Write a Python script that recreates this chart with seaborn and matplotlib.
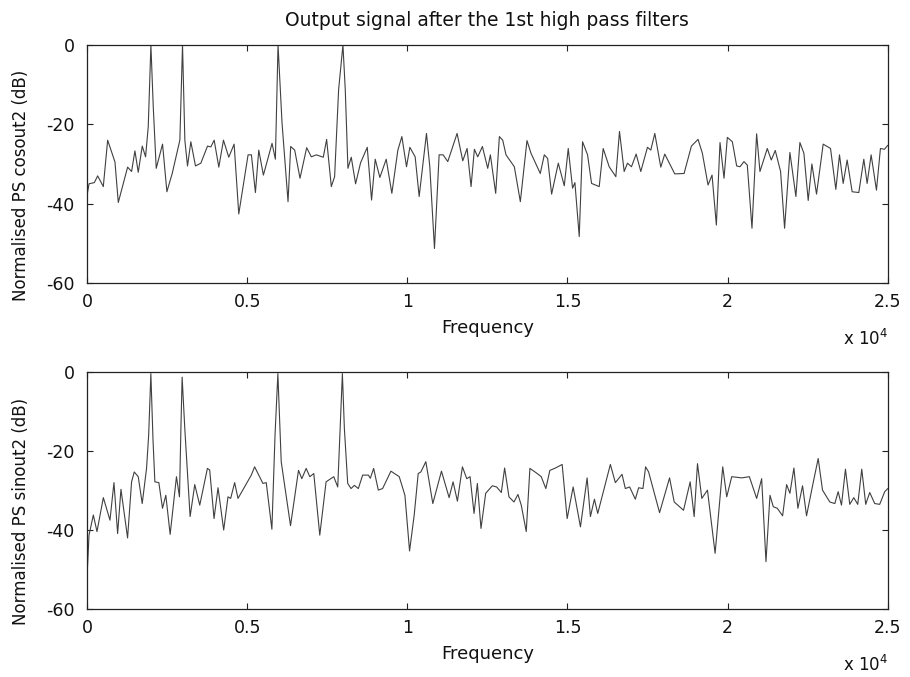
"""Power spectra of the two outputs after the first high pass filter stage."""
import matplotlib
matplotlib.use("Agg")
import matplotlib.pyplot as plt
import seaborn as sns
from matplotlib.ticker import FixedLocator, FuncFormatter

# ---------- data (Hz, dB) ----------

cos_freq = [
    0, 63, 229, 333, 509, 645, 873, 977, 1268, 1392, 1496, 1600, 1725, 1829,
    1912, 1995, 2068, 2161, 2359, 2494, 2660, 2899, 2982, 3055, 3138, 3242,
    3387, 3554, 3762, 3866, 3970, 4115, 4260, 4426, 4593, 4738, 5029, 5133,
    5258, 5362, 5507, 5777, 5881, 5964, 6089, 6276, 6359, 6484, 6650, 6858,
    7003, 7159, 7377, 7481, 7627, 7730, 7855, 7990, 8063, 8146, 8250, 8385,
    8541, 8749, 8884, 8998, 9143, 9341, 9517, 9705, 9830, 9975, 10079, 10245,
    10370, 10598, 10702, 10848, 10993, 11118, 11263, 11554, 11731, 11866,
    11990, 12094, 12198, 12344, 12510, 12593, 12759, 12874, 12978, 13081,
    13341, 13528, 13736, 13861, 14151, 14276, 14380, 14505, 14713, 14900,
    15024, 15159, 15232, 15367, 15471, 15627, 15752, 15991, 16115, 16302,
    16510, 16624, 16770, 16874, 16998, 17144, 17289, 17497, 17601, 17726,
    17913, 18037, 18349, 18640, 18869, 19076, 19211, 19388, 19513, 19648,
    19762, 19887, 19991, 20147, 20282, 20386, 20510, 20614, 20760, 20905,
    21009, 21238, 21362, 21487, 21653, 21778, 21944, 22131, 22256, 22381,
    22515, 22630, 22775, 22983, 23212, 23378, 23492, 23607, 23731, 23887,
    24095, 24251, 24355, 24480, 24646, 24770, 24895, 25000,
]
cos_db = [
    -38.0, -35.0, -34.7, -33.0, -35.7, -24.0, -29.5, -39.7, -30.8, -31.9,
    -26.7, -32.1, -25.5, -28.2, -20.6, 0.0, -15.5, -31.1, -25.0, -37.0,
    -32.4, -24.0, 0.0, -24.0, -30.5, -24.4, -30.5, -29.8, -25.5, -25.7,
    -24.0, -30.8, -24.0, -28.3, -25.0, -42.6, -27.7, -27.7, -37.2, -26.5,
    -32.8, -24.8, -28.8, 0.0, -19.7, -39.5, -25.6, -26.5, -33.6, -25.9,
    -28.2, -27.7, -28.3, -23.8, -35.7, -33.2, -11.3, 0.0, -11.3, -31.1,
    -28.3, -35.0, -29.7, -25.8, -39.1, -28.8, -33.4, -28.8, -37.4, -26.5,
    -23.1, -30.7, -25.8, -28.2, -38.2, -22.3, -30.7, -51.3, -27.7, -27.7,
    -29.4, -22.3, -29.2, -26.1, -35.7, -26.3, -28.2, -25.6, -31.1, -27.7,
    -37.4, -23.1, -24.0, -27.7, -30.7, -39.5, -24.1, -27.3, -32.4, -27.7,
    -28.6, -37.6, -29.8, -35.5, -26.1, -36.1, -34.7, -48.3, -24.4, -27.7,
    -34.9, -35.7, -26.1, -30.7, -33.2, -21.8, -31.9, -29.8, -30.7, -27.5,
    -31.9, -25.8, -26.5, -22.3, -30.8, -27.5, -32.5, -32.4, -25.5, -23.8,
    -27.3, -35.3, -32.8, -45.4, -24.6, -33.6, -23.3, -24.4, -30.5, -30.7,
    -29.4, -30.3, -46.2, -22.4, -31.9, -26.1, -29.0, -26.6, -31.9, -46.2,
    -27.1, -38.2, -24.6, -27.3, -39.2, -30.0, -37.6, -25.0, -26.1, -36.4,
    -27.7, -34.9, -29.0, -37.0, -37.2, -28.8, -34.9, -27.7, -36.6, -26.1,
    -26.3, -25.3,
]

sin_freq = [
    0, 63, 198, 312, 510, 717, 842, 956, 1060, 1267, 1392, 1475, 1600, 1724,
    1859, 1925, 1994, 2060, 2119, 2243, 2357, 2461, 2596, 2793, 2887, 2930,
    2970, 3053, 3219, 3364, 3520, 3759, 3831, 3966, 4091, 4267, 4402, 4485,
    4610, 4714, 5129, 5233, 5492, 5596, 5772, 5870, 5959, 6063, 6354, 6603,
    6707, 6842, 6956, 7080, 7267, 7464, 7703, 7828, 7900, 7973, 8035, 8139,
    8243, 8347, 8471, 8606, 8783, 8845, 8949, 9094, 9229, 9488, 9748, 9925,
    10070, 10215, 10340, 10423, 10578, 10796, 11066, 11305, 11429, 11564,
    11720, 11855, 11959, 12083, 12187, 12300, 12447, 12654, 12789, 12935,
    13038, 13173, 13329, 13454, 13557, 13713, 13827, 14056, 14180, 14325,
    14450, 14626, 14834, 14990, 15177, 15405, 15613, 15716, 15841, 15945,
    16339, 16495, 16703, 16806, 16941, 17118, 17222, 17356, 17439, 17533,
    17875, 18187, 18332, 18623, 18830, 18955, 19059, 19194, 19370, 19609,
    19847, 19972, 20128, 20439, 20678, 20906, 21062, 21197, 21322, 21425,
    21550, 21716, 21841, 21944, 22069, 22193, 22339, 22463, 22671, 22827,
    22962, 23190, 23346, 23450, 23554, 23678, 23813, 23938, 24062, 24187,
    24311, 24436, 24592, 24747, 24903, 25000,
]
sin_db = [
    -52.0, -41.3, -36.2, -40.4, -31.8, -37.5, -28.0, -40.9, -29.7, -42.0,
    -27.8, -25.3, -26.5, -33.3, -24.4, -16.0, -0.4, -17.0, -27.8, -28.0,
    -34.5, -31.2, -41.1, -26.5, -31.6, -15.0, -1.3, -14.3, -36.6, -28.5,
    -33.7, -24.4, -24.8, -37.1, -29.3, -40.0, -31.6, -32.0, -28.0, -32.0,
    -26.1, -24.0, -28.2, -28.0, -39.8, -16.0, -0.4, -22.7, -38.9, -24.9,
    -27.0, -24.4, -26.5, -25.7, -41.3, -27.8, -26.5, -29.1, -15.0, -0.4,
    -14.3, -28.2, -29.5, -28.7, -29.5, -26.1, -26.1, -26.9, -24.4, -29.9,
    -29.5, -25.1, -26.5, -31.2, -45.3, -36.2, -25.7, -25.3, -22.7, -33.3,
    -25.1, -31.8, -27.8, -32.7, -24.0, -27.0, -26.5, -35.8, -28.2, -39.6,
    -30.7, -28.8, -29.1, -30.5, -24.3, -31.6, -32.9, -31.0, -33.7, -40.4,
    -24.4, -25.7, -26.5, -29.5, -24.9, -24.3, -23.4, -37.1, -29.1, -39.2,
    -26.8, -36.6, -32.2, -35.8, -23.4, -28.0, -25.9, -29.5, -29.1, -32.2,
    -29.3, -29.5, -24.0, -25.3, -35.6, -26.8, -32.9, -35.0, -27.8, -36.6,
    -23.2, -32.0, -29.9, -45.9, -24.0, -31.6, -26.5, -26.8, -26.5, -32.0,
    -27.0, -48.0, -31.2, -34.1, -34.5, -36.4, -28.5, -30.7, -24.3, -34.5,
    -28.8, -36.4, -28.0, -21.9, -29.9, -32.9, -33.3, -30.3, -33.7, -24.6,
    -33.5, -31.8, -33.5, -24.6, -33.5, -30.5, -33.3, -33.5, -30.3, -29.5,
]

x_ticks = [0, 5000, 10000, 15000, 20000, 25000]
y_ticks = [0, -20, -40, -60]

TITLE = "Output signal after the 1st high pass filters"
YLABELS = ["Normalised PS cosout2 (dB)", "Normalised PS sinout2 (dB)"]
LINE_COLOR = "#404040"
TEXT_COLOR = "#111111"

# ---------- style ----------

sns.set_theme(style="ticks")
plt.rcParams["font.family"] = ["DejaVu Sans"]
plt.rcParams["axes.unicode_minus"] = False
plt.rcParams["axes.edgecolor"] = "#222222"
plt.rcParams["axes.linewidth"] = 0.9

fig = plt.figure(figsize=(9.1, 6.77), dpi=100)
ax_top = fig.add_axes([0.0956, 0.582, 0.880, 0.3516])
ax_bot = fig.add_axes([0.0956, 0.1004, 0.880, 0.3501])

panels = [(ax_top, cos_freq, cos_db), (ax_bot, sin_freq, sin_db)]
for i, (ax, f, db) in enumerate(panels):
    sns.lineplot(x=f, y=db, ax=ax, color=LINE_COLOR, linewidth=0.8,
                 estimator=None, sort=False)
    ax.set_xlim(0, 25000)
    ax.set_ylim(-60, 0)
    ax.xaxis.set_major_locator(FixedLocator(x_ticks))
    ax.yaxis.set_major_locator(FixedLocator(y_ticks))
    ax.xaxis.set_major_formatter(FuncFormatter(lambda v, p: f"{v / 1e4:g}"))
    ax.yaxis.set_major_formatter(FuncFormatter(lambda v, p: f"{v:g}"))
    ax.tick_params(direction="in", top=True, right=True, length=4,
                   width=0.8, color="#222222", labelsize=12.5, colors=TEXT_COLOR)
    ax.tick_params(axis="y", pad=9)
    ax.tick_params(axis="x", pad=7)
    ax.set_xlabel("Frequency", fontsize=13, color=TEXT_COLOR, labelpad=6)
    ax.set_ylabel(YLABELS[i], fontsize=12, color=TEXT_COLOR)
    ax.yaxis.set_label_coords(-0.071, 0.41)
    ax.text(1.0, -0.235, r"x 10$^4$", transform=ax.transAxes,
            ha="right", va="center", fontsize=12, color=TEXT_COLOR)
    for s in ax.spines.values():
        s.set_visible(True)

ax_top.set_title(TITLE, fontsize=13.5, color=TEXT_COLOR, pad=14)

fig.savefig("out.png", dpi=100, facecolor="white")
